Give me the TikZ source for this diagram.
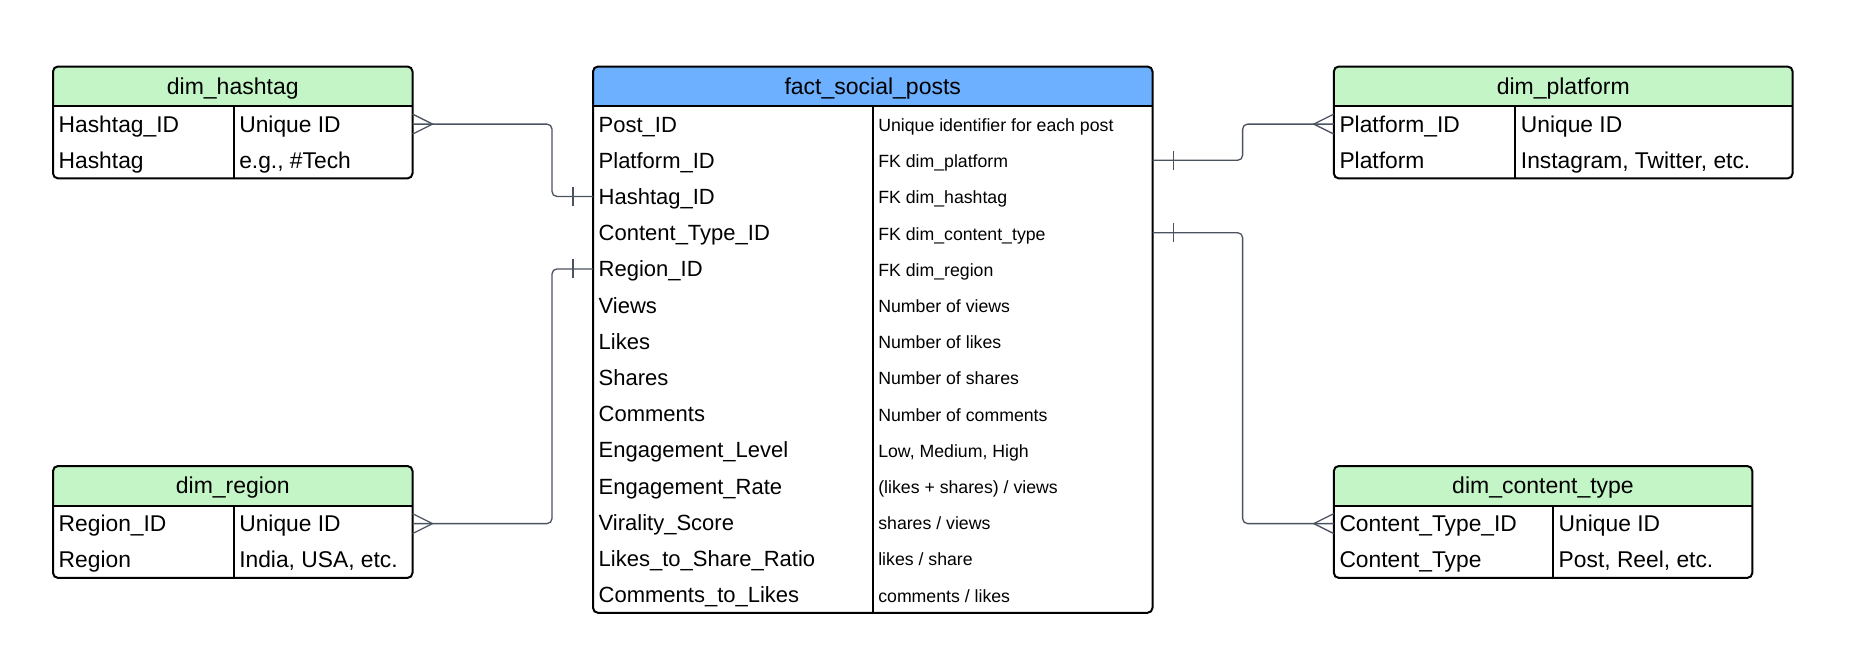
\documentclass[tikz,border=0pt]{standalone}
\usepackage{fontspec}
\setmainfont{Liberation Sans}
\usetikzlibrary{calc}
\definecolor{hdgreen}{RGB}{195,245,199}
\definecolor{hdblue}{RGB}{108,176,255}
\definecolor{connc}{RGB}{75,82,96}
\tikzset{
  tbl/.style={draw=black, line width=2pt, rounded corners=5pt, anchor=north west, inner sep=0pt, outer sep=0pt},
  sepline/.style={draw=black, line width=2pt},
  hdtext/.style={font=\fontsize{23}{27}\selectfont, inner sep=0pt, text height=0.7em, text depth=0pt, anchor=center, yshift=-4.5pt},
  fieldtext/.style={font=\fontsize{22}{26}\selectfont, inner sep=0pt, text height=0.7em, text depth=0pt, anchor=west, yshift=-4.5pt},
  dimtext/.style={font=\fontsize{22.8}{27}\selectfont, inner sep=0pt, text height=0.7em, text depth=0pt, anchor=west, yshift=-4.6pt},
  desctext/.style={font=\fontsize{17.7}{21}\selectfont, inner sep=0pt, text height=0.7em, text depth=0pt, anchor=west, yshift=-3.8pt},
  conn/.style={draw=connc, line width=1.3pt},
}
\begin{document}
\begin{tikzpicture}[x=1pt,y=-1pt]
\fill[white] (0,0) rectangle (1859,651);
\useasboundingbox (0,0) rectangle (1859,651);

% ---------------- dim_hashtag
\begin{scope}
\clip[rounded corners=5pt] (53,66.5) rectangle (412.5,178.4);
\fill[hdgreen] (53,66.5) rectangle (412.5,106);
\end{scope}
\node[tbl, minimum width=359.5pt, minimum height=111.9pt] (hashtag) at (53,66.5) {};
\draw[sepline] (53,106) -- (412.5,106);
\draw[sepline] (233.6,106) -- (233.6,178.4);
\node[hdtext] (hashtag-h) at (232.75,86.25) {dim\_hashtag};
\node[dimtext] (h-r1) at (58.5,124.1) {Hashtag\_ID};
\node[dimtext] (h-r2) at (58.5,160.3) {Hashtag};
\node[dimtext] (h-d1) at (239.1,124.1) {Unique ID};
\node[dimtext] (h-d2) at (239.1,160.3) {e.g., \#Tech};

% ---------------- dim_region
\begin{scope}
\clip[rounded corners=5pt] (53,466) rectangle (412.5,577.9);
\fill[hdgreen] (53,466) rectangle (412.5,505.5);
\end{scope}
\node[tbl, minimum width=359.5pt, minimum height=111.9pt] (region) at (53,466) {};
\draw[sepline] (53,505.5) -- (412.5,505.5);
\draw[sepline] (233.6,505.5) -- (233.6,577.9);
\node[hdtext] (region-h) at (232.75,485.75) {dim\_region};
\node[dimtext] (g-r1) at (58.5,523.6) {Region\_ID};
\node[dimtext] (g-r2) at (58.5,559.8) {Region};
\node[dimtext] (g-d1) at (239.1,523.6) {Unique ID};
\node[dimtext] (g-d2) at (239.1,559.8) {India, USA, etc.};

% ---------------- dim_platform
\begin{scope}
\clip[rounded corners=5pt] (1333.8,66.5) rectangle (1792.6,178.4);
\fill[hdgreen] (1333.8,66.5) rectangle (1792.6,106);
\end{scope}
\node[tbl, minimum width=458.8pt, minimum height=111.9pt] (platform) at (1333.8,66.5) {};
\draw[sepline] (1333.8,106) -- (1792.6,106);
\draw[sepline] (1515.2,106) -- (1515.2,178.4);
\node[hdtext] (platform-h) at (1563.2,86.25) {dim\_platform};
\node[dimtext] (p-r1) at (1339.3,124.1) {Platform\_ID};
\node[dimtext] (p-r2) at (1339.3,160.3) {Platform};
\node[dimtext] (p-d1) at (1520.7,124.1) {Unique ID};
\node[dimtext] (p-d2) at (1520.7,160.3) {Instagram, Twitter, etc.};

% ---------------- dim_content_type
\begin{scope}
\clip[rounded corners=5pt] (1333.8,466) rectangle (1752.3,577.9);
\fill[hdgreen] (1333.8,466) rectangle (1752.3,505.5);
\end{scope}
\node[tbl, minimum width=418.5pt, minimum height=111.9pt] (ctype) at (1333.8,466) {};
\draw[sepline] (1333.8,505.5) -- (1752.3,505.5);
\draw[sepline] (1553,505.5) -- (1553,577.9);
\node[hdtext] (ctype-h) at (1543,485.75) {dim\_content\_type};
\node[dimtext] (c-r1) at (1339.3,523.6) {Content\_Type\_ID};
\node[dimtext] (c-r2) at (1339.3,559.8) {Content\_Type};
\node[dimtext] (c-d1) at (1558.5,523.6) {Unique ID};
\node[dimtext] (c-d2) at (1558.5,559.8) {Post, Reel, etc.};

% ---------------- fact_social_posts
\begin{scope}
\clip[rounded corners=5pt] (593,66.5) rectangle (1152.5,612.8);
\fill[hdblue] (593,66.5) rectangle (1152.5,106);
\end{scope}
\node[tbl, minimum width=559.5pt, minimum height=546.3pt] (fact) at (593,66.5) {};
\draw[sepline] (593,106) -- (1152.5,106);
\draw[sepline] (872.6,106) -- (872.6,612.8);
\node[hdtext] (fact-h) at (872.75,86.25) {fact\_social\_posts};

\node[fieldtext] (f-r1)  at (598.5,124.1) {Post\_ID};
\node[fieldtext] (f-r2)  at (598.5,160.3) {Platform\_ID};
\node[fieldtext] (f-r3)  at (598.5,196.5) {Hashtag\_ID};
\node[fieldtext] (f-r4)  at (598.5,232.7) {Content\_Type\_ID};
\node[fieldtext] (f-r5)  at (598.5,268.9) {Region\_ID};
\node[fieldtext] (f-r6)  at (598.5,305.1) {Views};
\node[fieldtext] (f-r7)  at (598.5,341.3) {Likes};
\node[fieldtext] (f-r8)  at (598.5,377.5) {Shares};
\node[fieldtext] (f-r9)  at (598.5,413.7) {Comments};
\node[fieldtext] (f-r10) at (598.5,449.9) {Engagement\_Level};
\node[fieldtext] (f-r11) at (598.5,486.1) {Engagement\_Rate};
\node[fieldtext] (f-r12) at (598.5,522.3) {Virality\_Score};
\node[fieldtext] (f-r13) at (598.5,558.5) {Likes\_to\_Share\_Ratio};
\node[fieldtext] (f-r14) at (598.5,594.7) {Comments\_to\_Likes};

\node[desctext] (f-d1)  at (878.1,124.1) {Unique identifier for each post};
\node[desctext] (f-d2)  at (878.1,160.3) {FK dim\_platform};
\node[desctext] (f-d3)  at (878.1,196.5) {FK dim\_hashtag};
\node[desctext] (f-d4)  at (878.1,232.7) {FK dim\_content\_type};
\node[desctext] (f-d5)  at (878.1,268.9) {FK dim\_region};
\node[desctext] (f-d6)  at (878.1,305.1) {Number of views};
\node[desctext] (f-d7)  at (878.1,341.3) {Number of likes};
\node[desctext] (f-d8)  at (878.1,377.5) {Number of shares};
\node[desctext] (f-d9)  at (878.1,413.7) {Number of comments};
\node[desctext] (f-d10) at (878.1,449.9) {Low, Medium, High};
\node[desctext] (f-d11) at (878.1,486.1) {(likes + shares) / views};
\node[desctext] (f-d12) at (878.1,522.3) {shares / views};
\node[desctext] (f-d13) at (878.1,558.5) {likes / share};
\node[desctext] (f-d14) at (878.1,594.7) {comments / likes};

% ---------------- connectors
\coordinate (elL) at (552,0);
\coordinate (elR) at (1242.6,0);
\coordinate (hA) at (412.5,124.1);
\coordinate (gA) at (412.5,523.6);
\coordinate (fL3) at (593,196.5);
\coordinate (fL5) at (593,268.9);
\coordinate (fR2) at (1152.5,160.3);
\coordinate (fR4) at (1152.5,232.7);
\coordinate (pA) at (1333.8,124.1);
\coordinate (cA) at (1333.8,523.6);

% hashtag -> fact
\draw[conn, rounded corners=5pt] (hA) -- (hA -| elL) -- (fL3 -| elL) -- (fL3);
\draw[conn] ($(hA)+(0,-10)$) -- ($(hA)+(20,0)$) -- ($(hA)+(0,10)$);
\draw[conn] ($(fL3)+(-20,-9.5)$) -- ($(fL3)+(-20,9.5)$);

% region -> fact
\draw[conn, rounded corners=5pt] (gA) -- (gA -| elL) -- (fL5 -| elL) -- (fL5);
\draw[conn] ($(gA)+(0,-10)$) -- ($(gA)+(20,0)$) -- ($(gA)+(0,10)$);
\draw[conn] ($(fL5)+(-20,-9.5)$) -- ($(fL5)+(-20,9.5)$);

% fact -> platform
\draw[conn, rounded corners=5pt] (fR2) -- (fR2 -| elR) -- (pA -| elR) -- (pA);
\draw[conn] ($(fR2)+(21,-9.5)$) -- ($(fR2)+(21,9.5)$);
\draw[conn] ($(pA)+(0,-10)$) -- ($(pA)+(-20,0)$) -- ($(pA)+(0,10)$);

% fact -> content type
\draw[conn, rounded corners=5pt] (fR4) -- (fR4 -| elR) -- (cA -| elR) -- (cA);
\draw[conn] ($(fR4)+(21,-9.5)$) -- ($(fR4)+(21,9.5)$);
\draw[conn] ($(cA)+(0,-10)$) -- ($(cA)+(-20,0)$) -- ($(cA)+(0,10)$);
\end{tikzpicture}
\end{document}
